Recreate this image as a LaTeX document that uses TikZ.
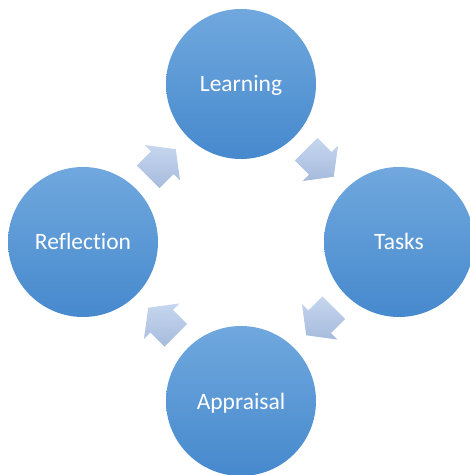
\documentclass[tikz,border=0pt]{standalone}
\usepackage{fontspec}
\setmainfont{Carlito}[Ligatures=NoCommon]
\usetikzlibrary{calc}
\definecolor{circtop}{RGB}{112,168,222}
\definecolor{circbot}{RGB}{70,137,205}
\definecolor{arrtop}{RGB}{198,214,239}
\definecolor{arrbot}{RGB}{166,187,220}
\tikzset{
  stage/.style={circle, minimum size=150pt, inner sep=0pt, top color=circtop, bottom color=circbot, draw=none,
    text=white, font=\fontsize{23.5}{28}\selectfont, text height=16pt, text depth=0pt},
  cyclearrow/.style={top color=arrtop, bottom color=arrbot, draw=none},
  blockarrow/.pic={\shade[cyclearrow] (-19.5,-16) -- (0.5,-16) -- (0.5,-25) -- (19.5,0) -- (0.5,25) -- (0.5,16) -- (-19.5,16) -- cycle;}
}
\begin{document}
\begin{tikzpicture}[x=1pt,y=1pt]
\useasboundingbox (0,0) rectangle (470,475);
\node[stage] (learn) at (241,391) {Learning};
\node[stage] (tasks) at (399,233) {Tasks};
\node[stage] (appr) at (241,74) {Appraisal};
\node[stage] (refl) at (83,233) {Reflection};
\coordinate (a1) at ($(refl)!0.5!(learn)$);
\coordinate (a2) at ($(learn)!0.5!(tasks)$);
\coordinate (a3) at ($(tasks)!0.5!(appr)$);
\coordinate (a4) at ($(appr)!0.5!(refl)$);
\pic[rotate=45] at (a1) {blockarrow};
\pic[rotate=-45] at (a2) {blockarrow};
\pic[rotate=-135] at (a3) {blockarrow};
\pic[rotate=135] at (a4) {blockarrow};
\end{tikzpicture}
\end{document}
